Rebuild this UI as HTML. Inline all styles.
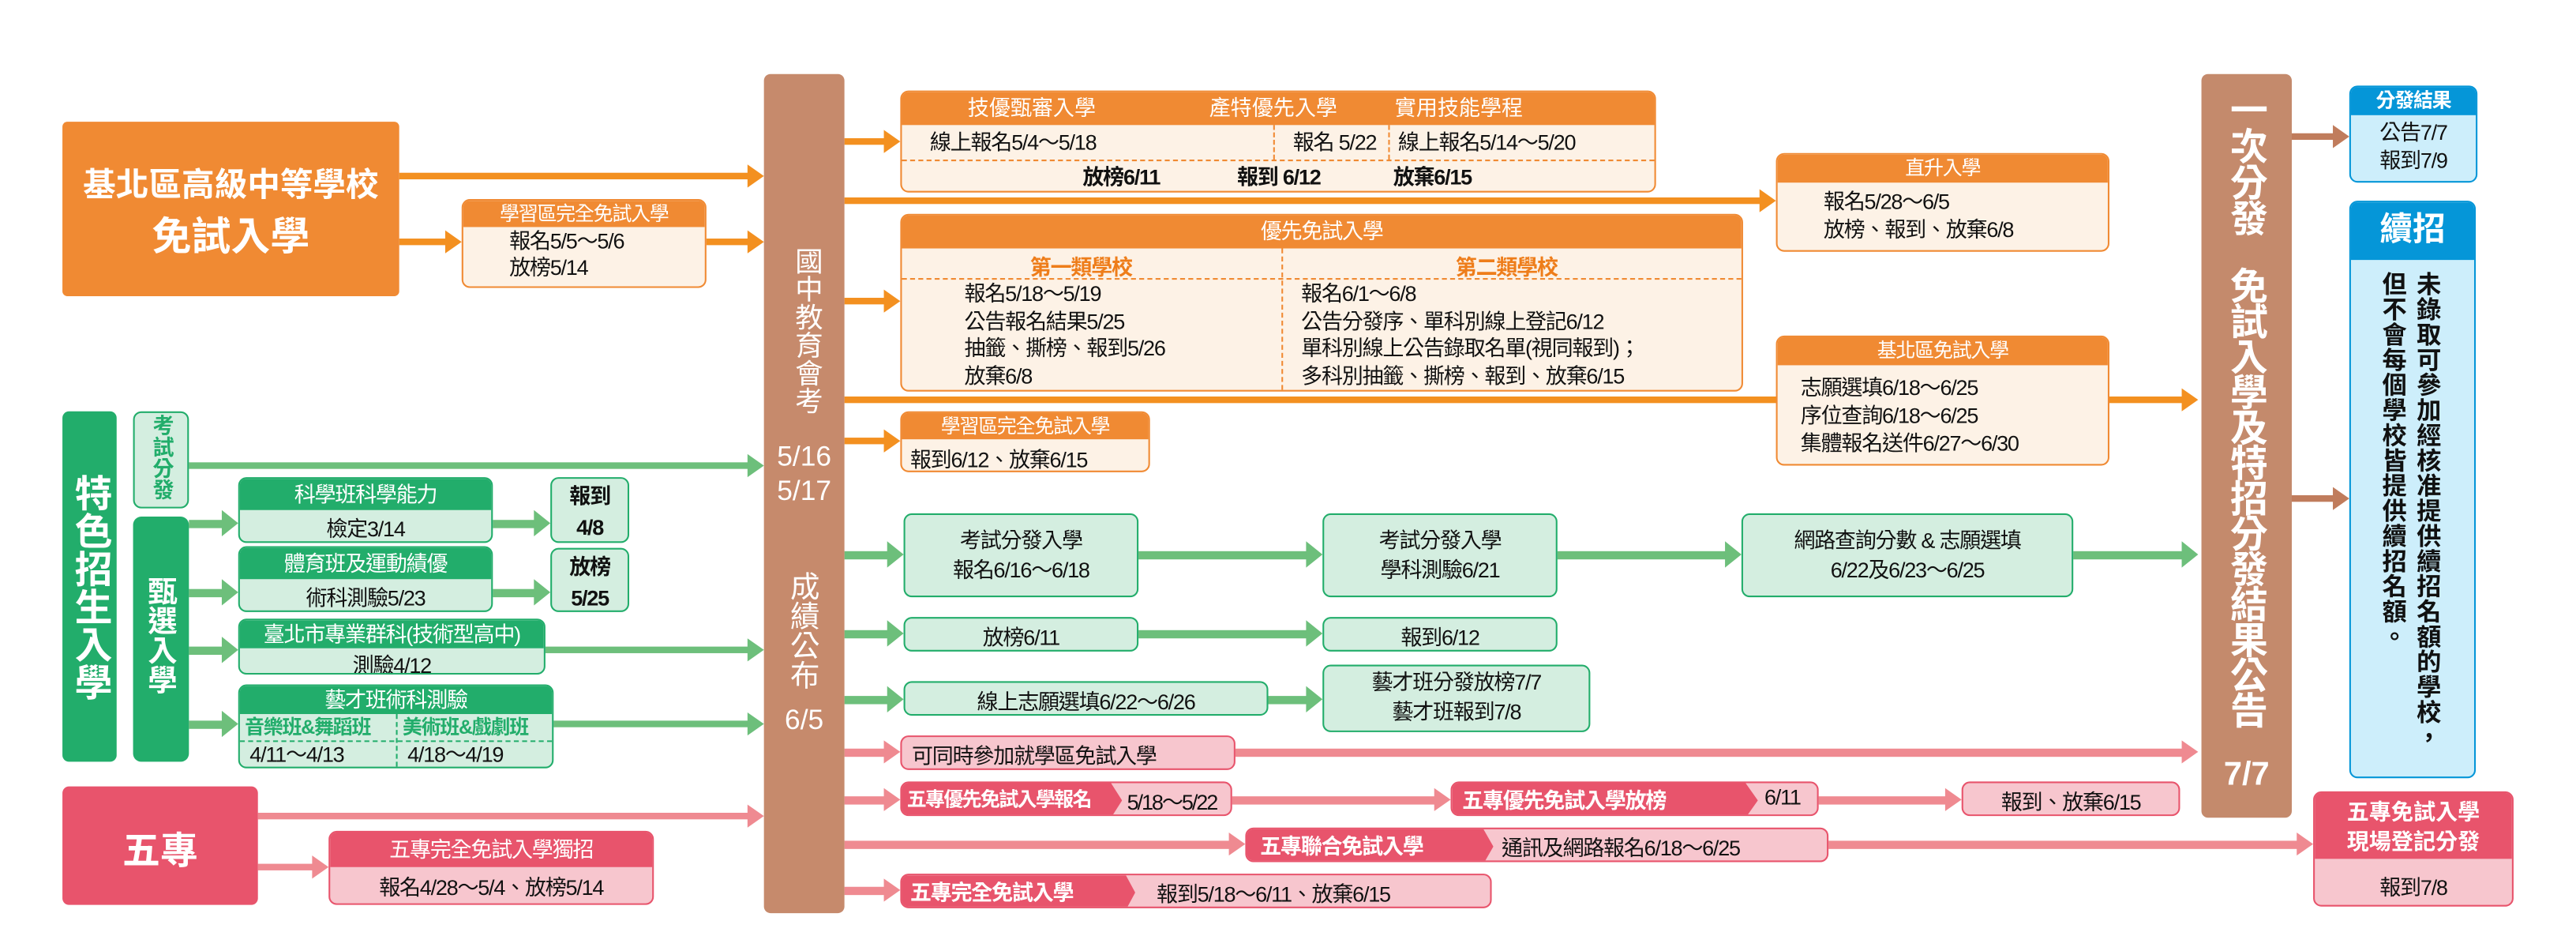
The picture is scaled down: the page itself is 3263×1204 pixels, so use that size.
<!DOCTYPE html>
<html><head><meta charset="utf-8">
<style>
html,body{margin:0;padding:0;background:#fff;width:3263px;height:1204px;overflow:hidden}
#w{position:absolute;left:0;top:0;width:1568px;height:578px;transform:scale(2.081,2.083);transform-origin:0 0;font-family:"Liberation Sans","Noto Sans CJK TC",sans-serif;color:#111}
.a{position:absolute;box-sizing:border-box;border-radius:5px;overflow:hidden}
.t{position:absolute;left:0;right:0;text-align:center;white-space:nowrap}
.o{border:1px solid #f08a33;background:#fdf2e6}
.oh{background:#f08a33;color:#fff}
.g{border:1px solid #22ad6b;background:#d4eee0}
.gh{background:#22ad6b;color:#fff}
.p{border:1px solid #e8546c;background:#f7c6ce}
.ph{background:#e8546c;color:#fff}
.v{writing-mode:vertical-rl;text-orientation:upright}
.f13{font-size:13px;letter-spacing:-0.6px}
.f12{font-size:12px;letter-spacing:-0.6px}
</style></head><body><div id="w">
<svg width="1568" height="578" style="position:absolute;left:0;top:0">
<g fill="#f39020" stroke="none">
<rect x="243" y="105" width="214" height="4"/><polygon points="455,100 465,107 455,114"/>
<rect x="243" y="145" width="30" height="4"/><polygon points="271,140 281,147 271,154"/>
<rect x="430" y="145" width="27" height="4"/><polygon points="455,140 465,147 455,154"/>
<rect x="514" y="84" width="26" height="4"/><polygon points="538,79 548,86 538,93"/>
<rect x="514" y="120" width="559" height="4"/><polygon points="1071,115 1081,122 1071,129"/>
<rect x="514" y="181" width="26" height="4"/><polygon points="538,176 548,183 538,190"/>
<rect x="514" y="241" width="816" height="4"/><polygon points="1328,236 1338,243 1328,250"/>
<rect x="514" y="266" width="26" height="4"/><polygon points="538,261 548,268 538,275"/>
</g>
<g fill="#6dbf7b">
<rect x="115" y="281" width="342" height="4"/><polygon points="455,276 465,283 455,290"/>
<rect x="115" y="316" width="22" height="5"/><polygon points="135,310 145,318 135,326"/>
<rect x="300" y="316" width="27" height="5"/><polygon points="325,310 335,318 325,326"/>
<rect x="115" y="358" width="22" height="5"/><polygon points="135,352 145,360 135,368"/>
<rect x="300" y="358" width="27" height="5"/><polygon points="325,352 335,360 325,368"/>
<rect x="115" y="393" width="22" height="5"/><polygon points="135,387 145,395 135,403"/>
<rect x="332" y="393" width="125" height="4"/><polygon points="455,388 465,395 455,402"/>
<rect x="115" y="438" width="22" height="5"/><polygon points="135,432 145,440 135,448"/>
<rect x="337" y="438" width="120" height="4"/><polygon points="455,433 465,440 455,447"/>
<rect x="514" y="335" width="28" height="5"/><polygon points="540,329 550,337 540,345"/>
<rect x="693" y="335" width="104" height="5"/><polygon points="795,329 805,337 795,345"/>
<rect x="948" y="335" width="104" height="5"/><polygon points="1050,329 1060,337 1050,345"/>
<rect x="1262" y="335" width="68" height="5"/><polygon points="1328,329 1338,337 1328,345"/>
<rect x="514" y="383" width="28" height="5"/><polygon points="540,377 550,385 540,393"/>
<rect x="693" y="383" width="104" height="5"/><polygon points="795,377 805,385 795,393"/>
<rect x="514" y="423" width="28" height="5"/><polygon points="540,417 550,425 540,433"/>
<rect x="772" y="423" width="25" height="5"/><polygon points="795,417 805,425 795,433"/>
</g>
<g fill="#ef8a91">
<rect x="157" y="494" width="300" height="4"/><polygon points="455,489 465,496 455,503"/>
<rect x="157" y="525" width="35" height="4"/><polygon points="190,520 200,527 190,534"/>
<rect x="514" y="455" width="26" height="5"/><polygon points="538,450 548,457 538,464"/>
<rect x="752" y="455" width="578" height="5"/><polygon points="1328,450 1338,457 1328,464"/>
<rect x="514" y="484" width="26" height="5"/><polygon points="538,479 548,486 538,493"/>
<rect x="750" y="484" width="125" height="5"/><polygon points="873,479 883,486 873,493"/>
<rect x="1107" y="484" width="79" height="5"/><polygon points="1184,479 1194,486 1184,493"/>
<rect x="514" y="511" width="236" height="5"/><polygon points="748,506 758,513 748,520"/>
<rect x="1113" y="511" width="287" height="5"/><polygon points="1398,506 1408,513 1398,520"/>
<rect x="514" y="539" width="26" height="5"/><polygon points="538,534 548,541 538,548"/>
</g>
<g fill="#c07c5c">
<rect x="1395" y="81" width="27" height="4"/><polygon points="1420,76 1430,83 1420,90"/>
<rect x="1395" y="301" width="27" height="4"/><polygon points="1420,296 1430,303 1420,310"/>
</g>
</svg>

<!-- Left orange -->
<div class="a" style="left:38px;top:74px;width:205px;height:106px;background:#f08a33;color:#fff;border-radius:3px">
<div class="t" style="top:22px;font-size:20px;font-weight:bold">基北區高級中等學校</div>
<div class="t" style="top:50px;font-size:24px;font-weight:bold">免試入學</div></div>
<div class="a o" style="left:281px;top:121px;width:149px;height:54px">
<div class="oh t f12" style="top:0;height:16px;line-height:16px">學習區完全免試入學</div>
<div class="f13" style="position:absolute;left:28px;top:17px;line-height:16px">報名5/5～5/6<br>放榜5/14</div></div>

<!-- brown column -->
<div class="a" style="left:465px;top:45px;width:49px;height:510px;background:#c68a6c;color:#fff;border-radius:4px">
<div class="v" style="position:absolute;left:14px;top:105px;font-size:17px;line-height:22px">國中教育會考</div>
<div class="t" style="top:222px;font-size:17px;line-height:21px">5/16<br>5/17</div>
<div class="v" style="position:absolute;left:13px;top:302px;font-size:18px;line-height:22px">成績公布</div>
<div class="t" style="top:383px;font-size:17px">6/5</div></div>

<!-- top box -->
<div class="a o" style="left:548px;top:55px;width:460px;height:62px">
<div class="oh" style="position:absolute;left:0;top:0;width:460px;height:20px;font-size:13px;line-height:20px;color:#fff">
<span style="position:absolute;left:40px">技優甄審入學</span><span style="position:absolute;left:187px">產特優先入學</span><span style="position:absolute;left:300px">實用技能學程</span></div>
<div style="position:absolute;left:226px;top:20px;height:21px;border-left:1px dashed #f08a33"></div>
<div style="position:absolute;left:296px;top:20px;height:21px;border-left:1px dashed #f08a33"></div>
<div style="position:absolute;left:0;right:0;top:41px;border-top:1px dashed #f08a33"></div>
<div class="f13" style="position:absolute;top:21px;left:17px;line-height:20px">線上報名5/4～5/18</div>
<div class="f13" style="position:absolute;top:21px;left:238px;line-height:20px">報名 5/22</div>
<div class="f13" style="position:absolute;top:21px;left:302px;line-height:20px">線上報名5/14～5/20</div>
<div class="f13" style="position:absolute;top:42px;left:110px;line-height:20px;font-weight:bold">放榜6/11</div>
<div class="f13" style="position:absolute;top:42px;left:204px;line-height:20px;font-weight:bold">報到 6/12</div>
<div class="f13" style="position:absolute;top:42px;left:299px;line-height:20px;font-weight:bold">放棄6/15</div></div>

<!-- 直升 -->
<div class="a o" style="left:1081px;top:93px;width:203px;height:60px">
<div class="oh t f12" style="top:0;height:17px;line-height:17px">直升入學</div>
<div class="f13" style="position:absolute;left:28px;top:20px;line-height:17px">報名5/28～6/5<br>放榜、報到、放棄6/8</div></div>

<!-- 優先免試 -->
<div class="a o" style="left:548px;top:130px;width:513px;height:108px">
<div class="oh t f13" style="top:0;height:20px;line-height:20px">優先免試入學</div>
<div style="position:absolute;left:231px;top:20px;bottom:0;border-left:1px dashed #f08a33"></div>
<div style="position:absolute;left:0;right:0;top:38px;border-top:1px dashed #f08a33"></div>
<div class="f13" style="position:absolute;left:78px;top:21px;color:#ee7d1a;font-weight:bold">第一類學校</div>
<div class="f13" style="position:absolute;left:337px;top:21px;color:#ee7d1a;font-weight:bold">第二類學校</div>
<div class="f13" style="position:absolute;left:38px;top:40px;line-height:16.5px">報名5/18～5/19<br>公告報名結果5/25<br>抽籤、撕榜、報到5/26<br>放棄6/8</div>
<div class="f13" style="position:absolute;left:243px;top:40px;line-height:16.5px">報名6/1～6/8<br>公告分發序、單科別線上登記6/12<br>單科別線上公告錄取名單(視同報到)；<br>多科別抽籤、撕榜、報到、放棄6/15</div></div>

<!-- 學習區 small -->
<div class="a o" style="left:548px;top:250px;width:152px;height:37px">
<div class="oh t f12" style="top:0;height:16px;line-height:16px">學習區完全免試入學</div>
<div class="f13" style="position:absolute;left:5px;top:18px">報到6/12、放棄6/15</div></div>

<!-- 基北區免試 -->
<div class="a o" style="left:1081px;top:204px;width:203px;height:79px">
<div class="oh t f12" style="top:0;height:17px;line-height:17px">基北區免試入學</div>
<div class="f13" style="position:absolute;left:14px;top:22px;line-height:17px">志願選填6/18～6/25<br>序位查詢6/18～6/25<br>集體報名送件6/27～6/30</div></div>

<!-- right brown -->
<div class="a" style="left:1340px;top:45px;width:55px;height:452px;background:#c48a6c;color:#fff;border-radius:4px">
<div class="v" style="position:absolute;left:12px;top:10px;font-size:23px;line-height:30px;font-weight:bold;letter-spacing:-1px">一次分發</div>
<div class="v" style="position:absolute;left:12px;top:117px;font-size:23px;line-height:30px;font-weight:bold;letter-spacing:-1.5px">免試入學及特招分發結果公告</div>
<div class="t" style="top:415px;font-size:20px;font-weight:bold">7/7</div></div>

<!-- blue -->
<div class="a" style="left:1430px;top:52px;width:78px;height:59px;border:1px solid #0596d8;background:#cdeefb">
<div class="t f12" style="top:0;height:17px;line-height:17px;background:#0596d8;color:#fff;font-weight:bold">分發結果</div>
<div class="t f13" style="top:19px;line-height:17px">公告7/7<br>報到7/9</div></div>
<div class="a" style="left:1430px;top:122px;width:77px;height:351px;border:1px solid #0596d8;background:#cdeefb">
<div class="t" style="top:0;height:35px;line-height:35px;background:#0596d8;color:#fff;font-weight:bold;font-size:20px">續招</div>
<div class="v" style="position:absolute;left:37px;top:42px;font-size:15px;line-height:18px;font-weight:bold;letter-spacing:0.3px">未錄取可參加經核准提供續招名額的學校，</div>
<div class="v" style="position:absolute;left:16px;top:42px;font-size:15px;line-height:18px;font-weight:bold;letter-spacing:0.3px">但不會每個學校皆提供續招名額。</div></div>

<!-- green left -->
<div class="a" style="left:38px;top:250px;width:33px;height:213px;background:#22ad6b;color:#fff;border-radius:4px">
<div class="v" style="position:absolute;left:4px;top:38px;font-size:23px;line-height:25px;font-weight:bold">特色招生入學</div></div>
<div class="a" style="left:81px;top:250px;width:34px;height:59px;background:#d4eee0;border:1px solid #22ad6b;color:#22ad6b">
<div class="v" style="position:absolute;left:8px;top:1px;font-size:13px;line-height:16px;font-weight:bold;letter-spacing:0">考試分發</div></div>
<div class="a" style="left:81px;top:314px;width:34px;height:149px;background:#22ad6b;color:#fff">
<div class="v" style="position:absolute;left:6px;top:36px;font-size:18px;line-height:22px;font-weight:bold">甄選入學</div></div>

<div class="a g" style="left:145px;top:290px;width:155px;height:40px">
<div class="gh t f13" style="top:0;height:19px;line-height:19px">科學班科學能力</div>
<div class="t f13" style="top:20px">檢定3/14</div></div>
<div class="a g" style="left:335px;top:290px;width:48px;height:40px">
<div class="t f13" style="top:1px;line-height:19px;font-weight:bold">報到<br>4/8</div></div>
<div class="a g" style="left:145px;top:332px;width:155px;height:40px">
<div class="gh t f13" style="top:0;height:19px;line-height:19px">體育班及運動績優</div>
<div class="t f13" style="top:20px">術科測驗5/23</div></div>
<div class="a g" style="left:335px;top:333px;width:48px;height:39px">
<div class="t f13" style="top:1px;line-height:19px;font-weight:bold">放榜<br>5/25</div></div>
<div class="a g" style="left:145px;top:376px;width:187px;height:34px">
<div class="gh t f13" style="top:0;height:17px;line-height:17px">臺北市專業群科(技術型高中)</div>
<div class="t f13" style="top:17px">測驗4/12</div></div>
<div class="a g" style="left:145px;top:416px;width:192px;height:51px">
<div class="gh t f13" style="top:0;height:17px;line-height:17px">藝才班術科測驗</div>
<div style="position:absolute;left:95px;top:17px;bottom:0;border-left:1px dashed #22ad6b"></div>
<div style="position:absolute;left:0;right:0;top:33px;border-top:1px dashed #22ad6b"></div>
<div class="f12" style="position:absolute;left:3px;top:17px;line-height:16px;color:#22ad6b;font-weight:bold">音樂班&amp;舞蹈班</div>
<div class="f12" style="position:absolute;left:99px;top:17px;line-height:16px;color:#22ad6b;font-weight:bold">美術班&amp;戲劇班</div>
<div class="f13" style="position:absolute;left:6px;top:33px;line-height:17px">4/11～4/13</div>
<div class="f13" style="position:absolute;left:102px;top:33px;line-height:17px">4/18～4/19</div></div>

<!-- green middle -->
<div class="a g" style="left:550px;top:312px;width:143px;height:51px"><div class="t f13" style="top:7px;line-height:18px">考試分發入學<br>報名6/16～6/18</div></div>
<div class="a g" style="left:805px;top:312px;width:143px;height:51px"><div class="t f13" style="top:7px;line-height:18px">考試分發入學<br>學科測驗6/21</div></div>
<div class="a g" style="left:1060px;top:312px;width:202px;height:51px"><div class="t f13" style="top:7px;line-height:18px">網路查詢分數 &amp; 志願選填<br>6/22及6/23～6/25</div></div>
<div class="a g" style="left:550px;top:375px;width:143px;height:21px"><div class="t f13" style="top:1px">放榜6/11</div></div>
<div class="a g" style="left:805px;top:375px;width:143px;height:21px"><div class="t f13" style="top:1px">報到6/12</div></div>
<div class="a g" style="left:550px;top:414px;width:222px;height:21px"><div class="t f13" style="top:1px">線上志願選填6/22～6/26</div></div>
<div class="a g" style="left:805px;top:404px;width:163px;height:41px"><div class="t f13" style="top:1px;line-height:18px">藝才班分發放榜7/7<br>藝才班報到7/8</div></div>

<!-- pink -->
<div class="a" style="left:38px;top:478px;width:119px;height:72px;background:#e8546c;color:#fff;border-radius:4px">
<div class="t" style="top:20px;font-size:23px;font-weight:bold">五專</div></div>
<div class="a p" style="left:200px;top:505px;width:198px;height:45px">
<div class="ph t f13" style="top:0;height:21px;line-height:21px">五專完全免試入學獨招</div>
<div class="t f13" style="top:23px">報名4/28～5/4、放榜5/14</div></div>

<div class="a p" style="left:548px;top:447px;width:204px;height:21px"><div class="f13" style="position:absolute;left:6px;top:1px">可同時參加就學區免試入學</div></div>
<div class="a p" style="left:548px;top:475px;width:202px;height:21px">
<div class="ph" style="position:absolute;left:0;top:0;width:134px;height:21px;line-height:21px;padding-left:3px;box-sizing:border-box;font-size:12px;letter-spacing:-0.8px;font-weight:bold;clip-path:polygon(0 0,95% 0,100% 50%,95% 100%,0 100%)">五專優先免試入學報名</div>
<div style="position:absolute;left:137px;top:1px;font-size:13px;letter-spacing:-1px;white-space:nowrap">5/18～5/22</div></div>
<div class="a p" style="left:883px;top:475px;width:224px;height:21px">
<div class="ph f13" style="position:absolute;left:0;top:0;width:186px;height:21px;line-height:21px;padding-left:6px;box-sizing:border-box;font-weight:bold;clip-path:polygon(0 0,96% 0,100% 50%,96% 100%,0 100%)">五專優先免試入學放榜</div>
<div class="f13" style="position:absolute;left:190px;top:1px">6/11</div></div>
<div class="a p" style="left:1194px;top:475px;width:133px;height:21px"><div class="t f13" style="top:1px">報到、放棄6/15</div></div>
<div class="a p" style="left:758px;top:503px;width:355px;height:21px">
<div class="ph f13" style="position:absolute;left:0;top:0;width:150px;height:21px;line-height:21px;padding-left:8px;box-sizing:border-box;font-weight:bold;clip-path:polygon(0 0,96% 0,100% 50%,96% 100%,0 100%)">五專聯合免試入學</div>
<div class="f13" style="position:absolute;left:155px;top:1px">通訊及網路報名6/18～6/25</div></div>
<div class="a p" style="left:548px;top:531px;width:360px;height:21px">
<div class="ph f13" style="position:absolute;left:0;top:0;width:142px;height:21px;line-height:21px;padding-left:5px;box-sizing:border-box;font-weight:bold;clip-path:polygon(0 0,96% 0,100% 50%,96% 100%,0 100%)">五專完全免試入學</div>
<div class="f13" style="position:absolute;left:155px;top:1px">報到5/18～6/11、放棄6/15</div></div>
<div class="a p" style="left:1408px;top:481px;width:122px;height:70px">
<div class="ph t" style="top:0;height:40px;line-height:18px;padding-top:3px;box-sizing:border-box;font-size:13.5px;font-weight:bold">五專免試入學<br>現場登記分發</div>
<div class="t f13" style="top:47px">報到7/8</div></div>
</div></body></html>
